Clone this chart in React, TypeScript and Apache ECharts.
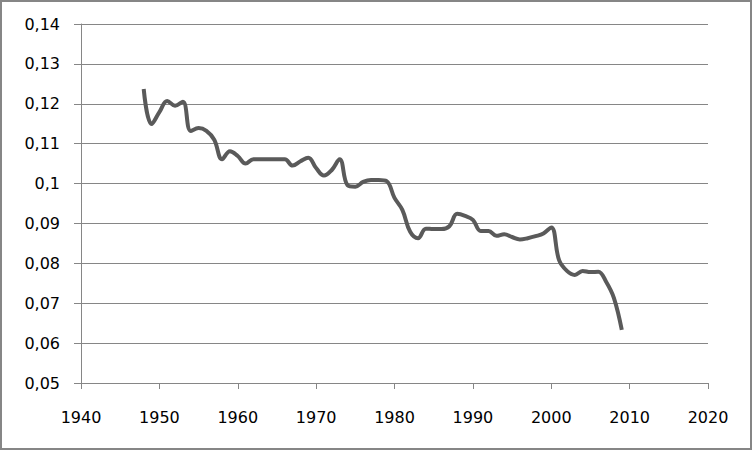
import React, { useEffect, useRef } from "react";
import * as echarts from "echarts";

const years: number[] = [
  1948, 1949, 1950, 1951, 1952, 1953, 1954, 1955, 1956, 1957,
  1958, 1959, 1960, 1961, 1962, 1963, 1964, 1965, 1966, 1967,
  1968, 1969, 1970, 1971, 1972, 1973, 1974, 1975, 1976, 1977,
  1978, 1979, 1980, 1981, 1982, 1983, 1984, 1985, 1986, 1987,
  1988, 1989, 1990, 1991, 1992, 1993, 1994, 1995, 1996, 1997,
  1998, 1999, 2000, 2001, 2002, 2003, 2004, 2005, 2006, 2007,
  2008, 2009,
];

const values: number[] = [
  0.1237, 0.1149, 0.1179, 0.1207, 0.1195, 0.1205, 0.1132, 0.1139, 0.1132, 0.1110,
  0.1061, 0.1081, 0.1069, 0.1050, 0.1061, 0.1061, 0.1061, 0.1061, 0.1061, 0.1045,
  0.1056, 0.1065, 0.1039, 0.1020, 0.1034, 0.1061, 0.0996, 0.0992, 0.1004, 0.1009,
  0.1009, 0.1006, 0.0964, 0.0934, 0.0879, 0.0863, 0.0887, 0.0886, 0.0886, 0.0893,
  0.0924, 0.0919, 0.0909, 0.0881, 0.0881, 0.0869, 0.0873, 0.0866, 0.0860, 0.0863,
  0.0868, 0.0875, 0.0890, 0.0808, 0.0781, 0.0771, 0.0781, 0.0778, 0.0779, 0.0754,
  0.0713, 0.0633,
];

const X_MIN = 1940;
const X_MAX = 2020;
const X_STEP = 10;
const Y_MIN = 0.05;
const Y_MAX = 0.14;
const Y_STEP = 0.01;

export default function App() {
  const ref = useRef<HTMLDivElement>(null);

  useEffect(() => {
    document.body.style.margin = "0";
    if (!ref.current) return;
    const chart = echarts.init(ref.current, undefined, { renderer: "svg" });
    const gray = "#868686";
    const font = "'DejaVu Sans', sans-serif";
    chart.setOption({
      animation: false,
      backgroundColor: "#ffffff",
      grid: { left: 81, right: 45, top: 24, bottom: 68 },
      graphic: [
        {
          type: "rect",
          shape: { x: 1, y: 1, width: 750, height: 448 },
          style: { fill: "none", stroke: gray, lineWidth: 2 },
          silent: true,
        },
      ],
      xAxis: {
        type: "value",
        min: X_MIN,
        max: X_MAX,
        interval: X_STEP,
        axisLine: { show: true, lineStyle: { color: gray, width: 1 } },
        axisTick: { show: true, length: 6, lineStyle: { color: gray } },
        splitLine: { show: false },
        axisLabel: {
          margin: 26,
          color: "#000",
          fontSize: 16,
          fontFamily: font,
          formatter: (v: number) => String(v),
        },
      },
      yAxis: {
        type: "value",
        min: Y_MIN,
        max: Y_MAX,
        interval: Y_STEP,
        axisLine: { show: true, lineStyle: { color: gray, width: 1 } },
        axisTick: { show: true, length: 7, lineStyle: { color: gray } },
        splitLine: { show: true, lineStyle: { color: gray, width: 1 } },
        axisLabel: {
          margin: 21,
          color: "#000",
          fontSize: 16,
          fontFamily: font,
          formatter: (v: number) =>
            String(Math.round(v * 100) / 100).replace(".", ","),
        },
      },
      series: [
        {
          type: "line",
          data: years.map((y, i) => [y, values[i]]),
          smooth: 0.4,
          showSymbol: false,
          lineStyle: { color: "#5a5a5a", width: 4 },
        },
      ],
    });
    return () => chart.dispose();
  }, []);

  return (
    <div
      ref={ref}
      style={{ width: 753, height: 451, position: "absolute", left: 0, top: 0 }}
    />
  );
}
